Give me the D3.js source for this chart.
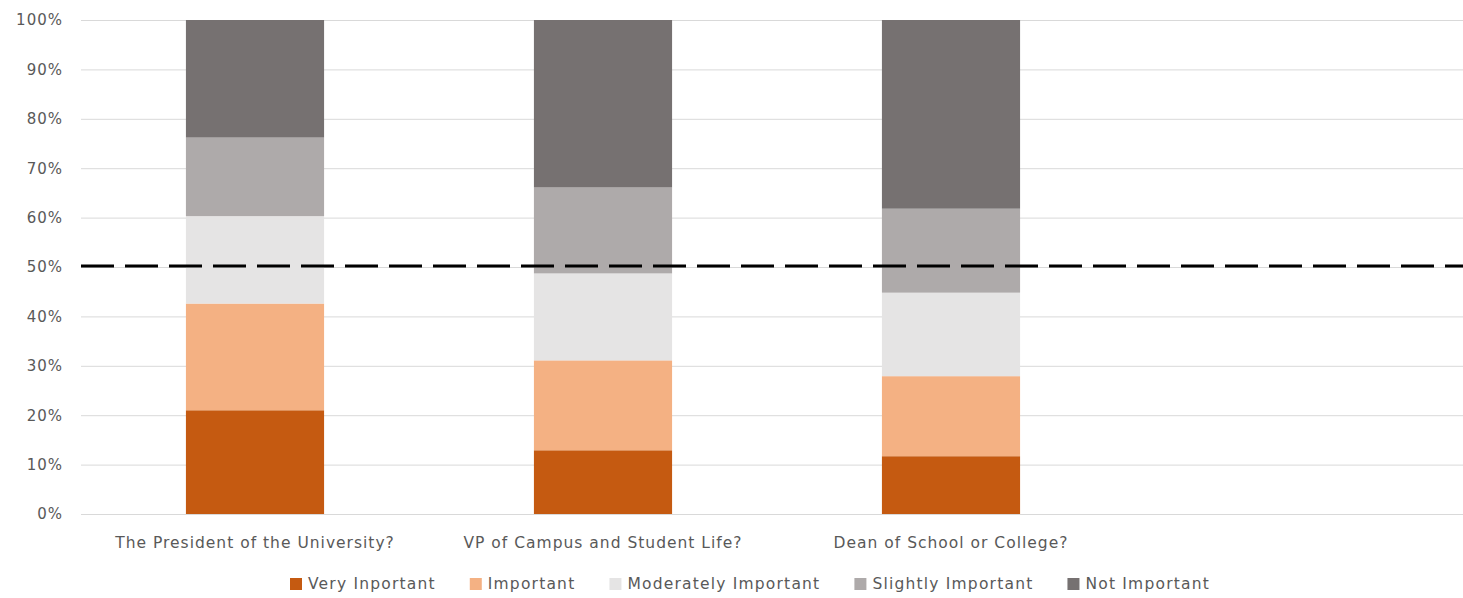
<!DOCTYPE html>
<html>
<head>
<meta charset="utf-8">
<script src="https://cdn.jsdelivr.net/npm/d3@7"></script>
<style>
  body { margin: 0; background: #fff; }
  text { font-family: "DejaVu Sans", sans-serif; fill: #595959; }
</style>
</head>
<body>
<svg width="1463" height="598"></svg>
<script>
// Categories (4th slot is empty in the original chart)
var categories = [
  "The President of the University?",
  "VP of Campus and Student Life?",
  "Dean of School or College?",
  ""
];

// Series (percent of responses)
var seriesNames = [
  "Very Inportant",
  "Important",
  "Moderately Important",
  "Slightly Important",
  "Not Important"
];
var veryImportant = [21.0, 12.9, 11.7];
var important = [21.6, 18.2, 16.2];
var moderately = [17.7, 17.6, 16.9];
var slightly = [15.9, 17.4, 17.0];
var notImportant = [23.8, 33.9, 38.2];

var colors = ["#c55a11", "#f4b183", "#e5e4e4", "#aeaaaa", "#767171"];

var yTicks = [0, 10, 20, 30, 40, 50, 60, 70, 80, 90, 100];
var referenceLine = 50;

var svg = d3.select("svg"),
  margin = { top: 20, right: 0, bottom: 84, left: 81 },
  width = 1392,
  height = +svg.attr("height") - margin.top - margin.bottom;

var g = svg
  .append("g")
  .attr("transform", "translate(" + margin.left + "," + margin.top + ")");

// build rows for d3.stack
var seriesValues = [veryImportant, important, moderately, slightly, notImportant];
var rows = categories.slice(0, 3).map(function (c, i) {
  var r = { category: c };
  seriesNames.forEach(function (s, k) {
    r[s] = seriesValues[k][i];
  });
  return r;
});

var stack = d3.stack().keys(seriesNames)(rows);

var xScale = d3
  .scaleBand()
  .domain(categories.map((d, i) => i))
  .range([0, width])
  .paddingInner(0.603)
  .paddingOuter(0.3015);

var yScale = d3.scaleLinear().domain([0, 100]).range([height, 0]);

// gridlines
g.append("g")
  .selectAll("line")
  .data(yTicks)
  .enter()
  .append("line")
  .attr("x1", 0)
  .attr("x2", 1463 - margin.left)
  .attr("y1", (d) => yScale(d) + 0.5)
  .attr("y2", (d) => yScale(d) + 0.5)
  .attr("stroke", "#d9d9d9")
  .attr("stroke-width", 1);

// y axis
var yAxis = g
  .append("g")
  .call(
    d3
      .axisLeft(yScale)
      .tickValues(yTicks)
      .tickSize(0)
      .tickPadding(18)
      .tickFormat((d) => d + "%")
  );
yAxis.select(".domain").remove();
yAxis
  .selectAll("text")
  .style("font-size", "15px")
  .style("letter-spacing", "1px")
  .attr("fill", "#595959");

// bars
g.append("g")
  .selectAll("g")
  .data(stack)
  .enter()
  .append("g")
  .attr("fill", (d, i) => colors[i])
  .selectAll("rect")
  .data((d) => d)
  .enter()
  .append("rect")
  .attr("x", (d, i) => xScale(i))
  .attr("y", (d) => yScale(d[1]))
  .attr("width", xScale.bandwidth())
  .attr("height", (d) => yScale(d[0]) - yScale(d[1]));

// x axis labels
var xAxis = g
  .append("g")
  .attr("transform", "translate(0," + height + ")")
  .call(
    d3
      .axisBottom(xScale)
      .tickSize(0)
      .tickPadding(23)
      .tickFormat((i) => categories[i])
  );
xAxis.select(".domain").remove();
xAxis
  .selectAll("text")
  .style("font-size", "15.5px")
  .style("letter-spacing", "1px")
  .attr("fill", "#595959");

// 50% dashed reference line
g.append("line")
  .attr("x1", 0)
  .attr("x2", 1463 - margin.left)
  .attr("y1", yScale(referenceLine) - 1)
  .attr("y2", yScale(referenceLine) - 1)
  .attr("stroke", "#000")
  .attr("stroke-width", 3)
  .attr("stroke-dasharray", "33,11");

// legend
var legend = svg.append("g").attr("transform", "translate(290,584)");
var lx = 0;
seriesNames.forEach(function (name, i) {
  var item = legend.append("g").attr("transform", "translate(" + lx + ",0)");
  item
    .append("rect")
    .attr("x", 0)
    .attr("y", -6)
    .attr("width", 12)
    .attr("height", 12)
    .attr("fill", colors[i]);
  var t = item
    .append("text")
    .attr("x", 18)
    .attr("dy", "0.35em")
    .style("font-size", "15.5px")
    .style("letter-spacing", "1.2px")
    .text(name);
  lx += 18 + t.node().getComputedTextLength() + 34;
});
</script>
</body>
</html>
